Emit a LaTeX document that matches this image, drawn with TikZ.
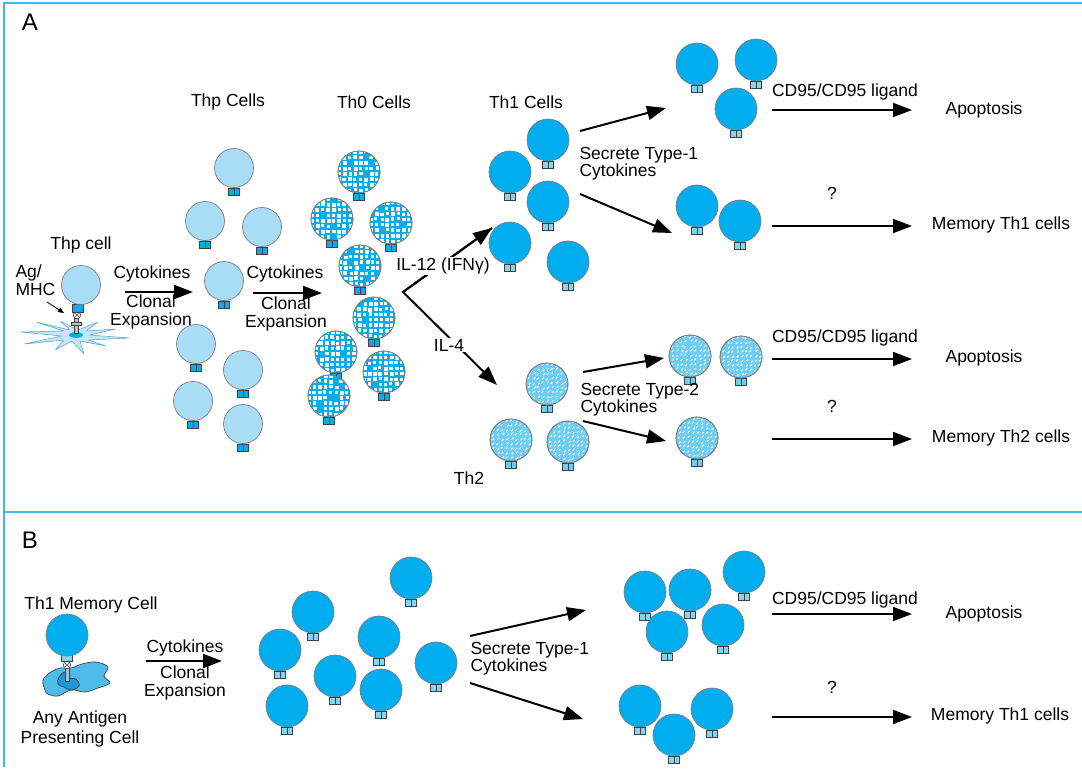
\documentclass[tikz,border=0pt]{standalone}
\usepackage{fontspec}
\setmainfont{Liberation Sans}
\usetikzlibrary{arrows.meta,calc}

\definecolor{framecyan}{HTML}{3DB8EE}
\definecolor{thblue}{HTML}{00AEEF}
\definecolor{thpale}{HTML}{A9DDF5}
\definecolor{thdot}{HTML}{6ECDF2}
\definecolor{rcptlight}{HTML}{86D4F4}
\definecolor{rimgray}{HTML}{7A7C80}
\definecolor{apcpale}{HTML}{C4E6F8}
\definecolor{apcrim}{HTML}{5AAFDD}
\definecolor{apcmid}{HTML}{4DBCEB}
\definecolor{apcdark}{HTML}{1E98D6}

\tikzset{
  cell/.style={circle,draw=rimgray,line width=0.7pt,minimum size=42pt,inner sep=0pt},
  thp/.style={fill=thpale,minimum size=39pt},
  thone/.style={fill=thblue},
  thzero/.style={fill=thblue},
  thtwo/.style={fill=thdot},
  rim/.style={draw=rimgray,line width=0.7pt},
  rcpt/.style={draw=black!75,line width=0.6pt},
  flow/.style={line width=2pt,-{Triangle[length=19pt,width=14pt]}},
  frame/.style={draw=framecyan,line width=2pt},
  panel/.style={font=\fontsize{24}{24}\selectfont},
}

% a T cell: body, then the two receptor stubs under it
\newcommand{\tcell}[4]{% style, name, position, receptor fill
  \node[cell,#1] (#2) at (#3) {};
  \draw[rcpt,fill=#4] ([xshift=-5.5pt]#2.south) rectangle ++(5.5,7)
                      (#2.south) rectangle ++(5.5,7);
}

% Th0 cell, blue with white blocks
\newcommand{\checkcell}[2]{%
  \tcell{thzero}{#1}{#2}{thblue}
  \begin{scope}
    \clip (#1) circle (20.6);
    \foreach \i in {-4,...,3}
      \foreach \j in {-4,...,3} {
        \pgfmathsetmacro{\dx}{\i*5.4+0.5*rand}
        \pgfmathsetmacro{\dy}{\j*5.4+0.5*rand}
        \pgfmathsetmacro{\sz}{3.1+0.9*rnd}
        \pgfmathtruncatemacro{\keep}{rnd<0.93 ? 1 : 0}
        \ifnum\keep=1
          \fill[white] ($(#1)+(\dx,\dy)$) rectangle ++(\sz,\sz);
        \fi
      }
  \end{scope}
  \draw[rim] (#1) circle (21);
}

% Th2 cell, pale blue with white dashes
\newcommand{\dotcell}[2]{%
  \tcell{thtwo}{#1}{#2}{thdot}
  \begin{scope}
    \clip (#1) circle (20.6);
    \foreach \i in {-5,...,4}
      \foreach \j in {-5,...,4} {
        \pgfmathsetmacro{\dx}{\i*4.6+rand}
        \pgfmathsetmacro{\dy}{\j*4.6+rand}
        \draw[white,line width=1pt] ($(#1)+(\dx,\dy)$) -- ++(1.7,-1.7);
      }
  \end{scope}
  \draw[rim] (#1) circle (21);
}

\begin{document}
\begin{tikzpicture}[x=1pt,y=-1pt,font=\fontsize{17.5}{18}\selectfont]
\useasboundingbox (0,0) rectangle (1082,769);
\pgfmathsetseed{4711}

% frame
\draw[frame] (4,767) -- (4,3) -- (1082,3);
\draw[frame] (4,512) -- (1082,512);
\node[panel] (pA) at (30,22) {A};
\node[panel] (pB) at (30,540) {B};

%% ---------------- panel A ----------------
% antigen presenting cell with Thp cell on top
\draw[draw=apcrim,fill=apcpale,line width=0.6pt,line join=round,rounded corners=0.8pt]
  (20,332) -- (64,331) -- (36,322) -- (70,330) -- (60,321) -- (78,330)
  -- (98,322) -- (86,331) -- (116,329) -- (89,335) -- (130,338) -- (88,340)
  -- (106,346) -- (80,341) -- (84,354) -- (72,341) -- (55,350) -- (64,340)
  -- (24,344) -- (62,336) -- cycle;
\fill[thblue] (76,335) ellipse (7 and 2.8);
\draw[rcpt,fill=black!25] (74.5,318) rectangle (78.5,333);
\draw[rcpt,fill=black!25] (71.5,322) rectangle (81.5,325);
\draw[rcpt,fill=white] (77,315) circle (3.8);
\draw[black!75,line width=0.5pt] (74.5,313) -- (79.5,317) (79.5,313) -- (74.5,317);
\draw[rcpt,fill=thblue] (72,304) rectangle (83,312);
\node[cell,thp] (thp0) at (81,285) {};
\node (tThpCell) at (81,245) {Thp cell};
\node[align=left,anchor=west] (tAgMHC) at (12,280) {Ag/\\MHC};
\coordinate (agA) at (47,302);
\coordinate (agB) at (64,313);
\draw[line width=0.8pt,-{Triangle[length=6pt,width=5pt]}] (agA) -- (agB);

% Thp cells
\node (tThp) at (228,102) {Thp Cells};
\tcell{thp}{thp1}{234,168}{thblue}
\tcell{thp}{thp2}{205,221}{thblue}
\tcell{thp}{thp3}{262,227}{thblue}
\tcell{thp}{thp4}{224,281}{thblue}
\tcell{thp}{thp5}{196,344}{thblue}
\tcell{thp}{thp6}{243,370}{thblue}
\tcell{thp}{thp7}{193,401}{thblue}
\tcell{thp}{thp8}{243,424}{thblue}

% Th0 cells
\node (tThz) at (374,102) {Th0 Cells};
\checkcell{thz1}{359,172}
\checkcell{thz2}{332,219}
\checkcell{thz3}{391,223}
\checkcell{thz4}{360,266}
\checkcell{thz5}{374,318}
\checkcell{thz6}{336,352}
\checkcell{thz7}{384,372}
\checkcell{thz8}{329,396}

% Th1 cells
\node (tTho) at (526,102) {Th1 Cells};
\tcell{thone}{tha1}{548,140}{rcptlight}
\tcell{thone}{tha2}{510,172}{rcptlight}
\tcell{thone}{tha3}{548,202}{rcptlight}
\tcell{thone}{tha4}{510,243}{rcptlight}
\tcell{thone}{tha5}{568,262}{rcptlight}
\tcell{thone}{tha6}{697,64}{rcptlight}
\tcell{thone}{tha7}{756,60}{rcptlight}
\tcell{thone}{tha8}{736,109}{rcptlight}
\tcell{thone}{tha9}{697,206}{rcptlight}
\tcell{thone}{tha10}{740,221}{rcptlight}

% Th2 cells
\dotcell{thb1}{547,384}
\dotcell{thb2}{511,440}
\dotcell{thb3}{568,442}
\dotcell{thb4}{690,356}
\dotcell{thb5}{741,357}
\dotcell{thb6}{697,438}
\node (tThb) at (469,478) {Th2};

% clonal expansion arrows
\coordinate (c1a) at (125,292);
\coordinate (c1b) at (193,292);
\coordinate (c2a) at (253,293);
\coordinate (c2b) at (322,293);
\draw[flow] (c1a) -- (c1b);
\draw[flow] (c2a) -- (c2b);
\node (tCy1) at (152,274) {Cytokines};
\node[align=center] (tCE1) at (151,312) {Clonal\\Expansion};
\node (tCy2) at (285,274) {Cytokines};
\node[align=center] (tCE2) at (286,314) {Clonal\\Expansion};

% IL-12 / IL-4 fork
\coordinate (fork) at (403,292);
\coordinate (toTho) at (492,228);
\coordinate (toThb) at (497,385);
\draw[flow,line join=miter] (toTho) -- (fork) -- (toThb);
\draw[flow] (fork) -- (toTho);
\node[fill=white,inner sep=1pt] (tIL12) at (443,266) {IL-12 (IFNγ)};
\node[fill=white,inner sep=1pt] (tIL4) at (449,345) {IL-4};

% Th1 fates
\coordinate (s1a) at (580,131);
\coordinate (s1b) at (666,108);
\coordinate (s1c) at (580,194);
\coordinate (s1d) at (672,233);
\draw[flow] (s1a) -- (s1b);
\draw[flow] (s1c) -- (s1d);
\node[align=left,anchor=west,font=\fontsize{17.5}{17}\selectfont] (tSe1) at (576,164) {Secrete Type-1\\Cytokines};
\coordinate (ap1a) at (772,110);
\coordinate (ap1b) at (912,110);
\coordinate (m1a) at (772,226);
\coordinate (m1b) at (912,226);
\draw[flow] (ap1a) -- (ap1b);
\draw[flow] (m1a) -- (m1b);
\node (tCD1) at (845,92) {CD95/CD95 ligand};
\node (tAp1) at (984,110) {Apoptosis};
\node (tQ1) at (832,193) {?};
\node (tMe1) at (1001,225) {Memory Th1 cells};

% Th2 fates
\coordinate (s2a) at (583,372);
\coordinate (s2b) at (664,358);
\coordinate (s2c) at (583,421);
\coordinate (s2d) at (666,441);
\draw[flow] (s2a) -- (s2b);
\draw[flow] (s2c) -- (s2d);
\node[align=left,anchor=west,font=\fontsize{17.5}{17}\selectfont] (tSe2) at (577,400) {Secrete Type-2\\Cytokines};
\coordinate (ap2a) at (772,359);
\coordinate (ap2b) at (912,359);
\coordinate (m2a) at (772,439);
\coordinate (m2b) at (912,439);
\draw[flow] (ap2a) -- (ap2b);
\draw[flow] (m2a) -- (m2b);
\node (tCD2) at (845,338) {CD95/CD95 ligand};
\node (tAp2) at (984,358) {Apoptosis};
\node (tQ2) at (832,406) {?};
\node (tMe2) at (1001,438) {Memory Th2 cells};

%% ---------------- panel B ----------------
\node (tMem) at (91,605) {Th1 Memory Cell};
\draw[draw=black!80,fill=apcmid,line width=0.6pt]
  plot[smooth cycle,tension=0.6] coordinates {(45,690) (43,680) (51,672) (60,668)
  (71,668) (82,664) (96,662) (108,667) (104,676) (110,683) (98,688) (85,692)
  (71,690) (58,696) (48,694)};
\draw[draw=black!80,fill=apcdark,line width=0.6pt]
  plot[smooth cycle,tension=0.7] coordinates {(59,677) (65,672) (69,678) (76,679)
  (79,686) (71,690) (64,687) (58,684)};
\draw[rcpt,fill=black!25] (65,668) rectangle (69,681);
\draw[rcpt,fill=white] (67,665) circle (3.8);
\draw[black!75,line width=0.5pt] (64.5,663) -- (69.5,667) (69.5,663) -- (64.5,667);
\draw[rcpt,fill=rcptlight] (61.5,654) rectangle (72.5,661);
\node[cell,thone] (mem0) at (67,635) {};
\node[align=center,font=\fontsize{17.5}{20}\selectfont] (tAPC) at (80,729) {Any Antigen\\Presenting Cell};

\coordinate (c3a) at (146,661);
\coordinate (c3b) at (222,661);
\draw[flow] (c3a) -- (c3b);
\node (tCy3) at (185,648) {Cytokines};
\node[align=center] (tCE3) at (185,683) {Clonal\\Expansion};

% expanded memory clones
\tcell{thone}{mc1}{411,578}{rcptlight}
\tcell{thone}{mc2}{313,612}{rcptlight}
\tcell{thone}{mc3}{379,637}{rcptlight}
\tcell{thone}{mc4}{280,650}{rcptlight}
\tcell{thone}{mc5}{436,663}{rcptlight}
\tcell{thone}{mc6}{335,676}{rcptlight}
\tcell{thone}{mc7}{381,690}{rcptlight}
\tcell{thone}{mc8}{287,706}{rcptlight}

\tcell{thone}{md1}{744,572}{rcptlight}
\tcell{thone}{md2}{645,592}{rcptlight}
\tcell{thone}{md3}{690,590}{rcptlight}
\tcell{thone}{md4}{723,625}{rcptlight}
\tcell{thone}{md5}{667,632}{rcptlight}
\tcell{thone}{md6}{640,706}{rcptlight}
\tcell{thone}{md7}{712,709}{rcptlight}
\tcell{thone}{md8}{674,735}{rcptlight}

\coordinate (s3a) at (470,636);
\coordinate (s3b) at (586,610);
\coordinate (s3c) at (470,683);
\coordinate (s3d) at (583,719);
\draw[flow] (s3a) -- (s3b);
\draw[flow] (s3c) -- (s3d);
\node[align=left,anchor=west,font=\fontsize{17.5}{17}\selectfont] (tSe3) at (467,659) {Secrete Type-1\\Cytokines};
\coordinate (ap3a) at (772,614);
\coordinate (ap3b) at (912,614);
\coordinate (m3a) at (772,717);
\coordinate (m3b) at (912,717);
\draw[flow] (ap3a) -- (ap3b);
\draw[flow] (m3a) -- (m3b);
\node (tCD3) at (845,600) {CD95/CD95 ligand};
\node (tAp3) at (984,614) {Apoptosis};
\node (tQ3) at (832,687) {?};
\node (tMe3) at (1000,716) {Memory Th1 cells};
\end{tikzpicture}
\end{document}
